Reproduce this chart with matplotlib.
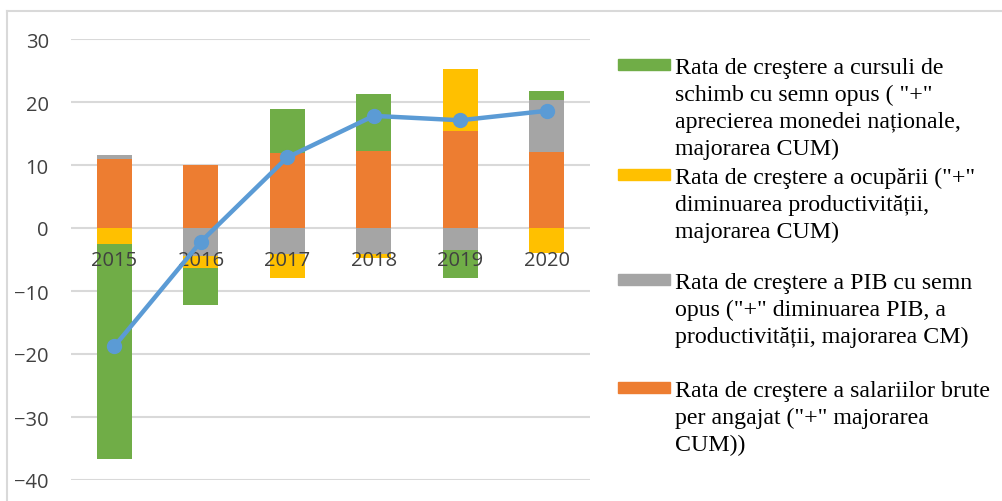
import numpy as np
import matplotlib.pyplot as plt
from matplotlib.patches import Rectangle
from matplotlib.lines import Line2D

years = ['2015', '2016', '2017', '2018', '2019', '2020']

# contributions, in stacking order (orange first)
salarii = [11.0, 10.0, 11.85, 12.2, 15.35, 12.05]
pib = [0.6, -4.5, -4.1, -4.1, -3.5, 8.3]
ocupare = [-2.6, -1.85, -3.8, -0.7, 9.9, -3.9]
curs = [-34.1, -5.85, 7.05, 9.1, -4.5, 1.4]
cum = [-18.8, -2.2, 11.2, 17.8, 17.1, 18.6]

labels = [
    'Rata de creştere a cursuli de\nschimb cu semn opus ( "+"\naprecierea monedei naționale,\nmajorarea CUM)',
    'Rata de creştere a ocupării ("+"\ndiminuarea productivității,\nmajorarea CUM)',
    'Rata de creştere a PIB cu semn\nopus ("+" diminuarea PIB, a\nproductivității, majorarea CM)',
    'Rata de creştere a salariilor brute\nper angajat ("+" majorarea\nCUM))',
]
colors = ['#70AD47', '#FFC000', '#A5A5A5', '#ED7D31']

W, H = 1003, 502
fig = plt.figure(figsize=(W / 100, H / 100), dpi=100)
ax = fig.add_axes([71 / W, 1 - 481 / H, (590 - 71) / W, 441 / H])

x = np.arange(len(years))
pos_base = np.zeros(len(years))
neg_base = np.zeros(len(years))
for vals, col in [(salarii, '#ED7D31'), (pib, '#A5A5A5'), (ocupare, '#FFC000'), (curs, '#70AD47')]:
    v = np.array(vals)
    base = np.where(v >= 0, pos_base, neg_base)
    ax.bar(x, v, 0.4, bottom=base, color=col, zorder=2)
    pos_base += np.where(v >= 0, v, 0)
    neg_base += np.where(v < 0, v, 0)

ax.plot(x, cum, color='#5B9BD5', lw=3.2, marker='o', ms=10, zorder=6,
        solid_capstyle='round')

ax.set_xlim(-0.5, 5.5)
ax.set_ylim(-40, 30)
ax.set_yticks(np.arange(-40, 31, 10))
ax.grid(axis='y', color='#D9D9D9', lw=1.5, zorder=0)
ax.set_axisbelow(True)
for s in ax.spines.values():
    s.set_visible(False)
ax.spines['bottom'].set_position(('data', 0))
ax.set_xticks(x)
ax.set_xticklabels(years)
ax.tick_params(axis='x', length=0, pad=16, labelsize=14.5, labelcolor='#404040')
ax.tick_params(axis='y', length=0, pad=16, labelsize=14.5, labelcolor='#404040')
for t in ax.get_xticklabels() + ax.get_yticklabels():
    t.set_fontfamily('Open Sans')
ax.xaxis.set_zorder(5)  # year labels sit on top of the bars

# legend drawn by hand to mimic the uneven spacing
tops = [66, 176, 281, 389]
for lab, col, ty in zip(labels, colors, tops):
    fig.add_artist(Rectangle((618 / W, 1 - (ty + 5) / H), 52 / W, 11 / H,
                             transform=fig.transFigure, color=col))
    fig.text(675 / W, 1 - (ty - 8) / H, lab, ha='left', va='top', fontsize=17.2,
             family='Liberation Serif', color='black', linespacing=1.36,
             transform=fig.transFigure)

# chart frame
fig.add_artist(Line2D([7 / W, 7 / W], [0, 1 - 12 / H], color='#D9D9D9', lw=1.5))
fig.add_artist(Line2D([7 / W, 1], [1 - 12 / H, 1 - 12 / H], color='#D9D9D9', lw=1.5))

fig.savefig('out.png', dpi=100)
